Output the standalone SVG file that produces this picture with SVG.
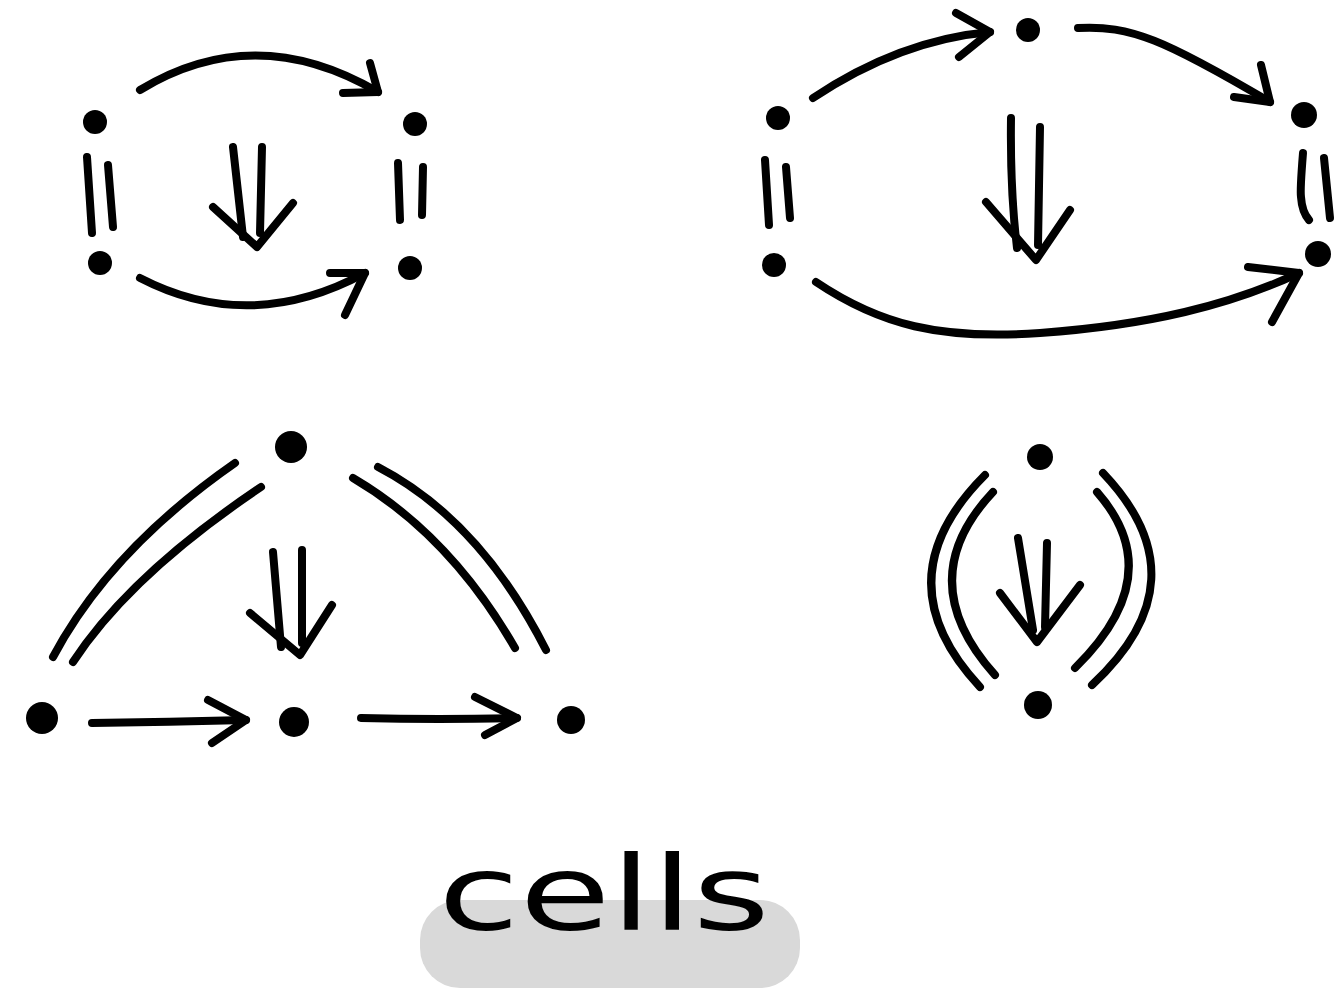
<svg xmlns="http://www.w3.org/2000/svg" width="1337" height="992" viewBox="0 0 1337 992">
<style>
.s{fill:none;stroke:#000;stroke-width:8;stroke-linecap:round;stroke-linejoin:round}
.d{fill:#000}
.lbl{font-family:"DejaVu Sans","Liberation Sans",sans-serif;font-size:104px;fill:#000}
</style>
<rect width="1337" height="992" fill="#fff"/>
<g id="label">
<rect x="420" y="900" width="380" height="88" rx="40" fill="#d9d9d9"/>
<text class="lbl" x="438" y="930" textLength="332" lengthAdjust="spacingAndGlyphs">cells</text>
</g>
<g id="nodes">
<g id="n1a"><circle class="d" cx="95" cy="122" r="12"/></g>
<g id="n1b"><circle class="d" cx="415" cy="124" r="12"/></g>
<g id="n1c"><circle class="d" cx="100" cy="263" r="12"/></g>
<g id="n1d"><circle class="d" cx="410" cy="268" r="12"/></g>
<g id="n2a"><circle class="d" cx="778" cy="118" r="12"/></g>
<g id="n2b"><circle class="d" cx="774" cy="265" r="12"/></g>
<g id="n2c"><circle class="d" cx="1028" cy="30" r="12"/></g>
<g id="n2d"><circle class="d" cx="1304" cy="115" r="13"/></g>
<g id="n2e"><circle class="d" cx="1318" cy="254" r="13"/></g>
<g id="n3a"><circle class="d" cx="291" cy="447" r="16"/></g>
<g id="n3b"><circle class="d" cx="42" cy="718" r="16"/></g>
<g id="n3c"><circle class="d" cx="294" cy="722" r="15"/></g>
<g id="n3d"><circle class="d" cx="571" cy="720" r="14"/></g>
<g id="n4a"><circle class="d" cx="1040" cy="457" r="13"/></g>
<g id="n4b"><circle class="d" cx="1038" cy="705" r="14"/></g>
</g>
<g id="connectors">
<!-- diagram 1 -->
<path class="s" d="M140,90 Q255,20 378,92"/>
<path class="s" d="M343,93 L378,92 L370,63"/>
<path class="s" d="M140,278 Q250,335 365,273"/>
<path class="s" d="M330,273 L365,273 L345,315"/>
<path class="s" d="M87,157 L92,233 M108,165 L113,227"/>
<path class="s" d="M398,163 L400,220 M423,167 L422,215"/>
<path class="s" d="M233,147 L243,237 M262,147 L260,233"/>
<path class="s" d="M213,207 L257,247 L293,203"/>
<!-- diagram 2 -->
<path class="s" d="M813,98 Q900,40 990,32"/>
<path class="s" d="M956,13 L990,32 L959,57"/>
<path class="s" d="M1078,28 C1130,25 1165,40 1270,102"/>
<path class="s" d="M1261,65 L1270,102 L1234,97"/>
<path class="s" d="M816,282 C880,325 940,340 1040,333 C1150,325 1230,305 1299,273"/>
<path class="s" d="M1248,267 L1299,273 L1272,322"/>
<path class="s" d="M765,160 L769,225 M786,167 L790,218"/>
<path class="s" d="M1303,153 Q1300,190 1301,197 Q1302,212 1309,220 M1324,158 L1330,218"/>
<path class="s" d="M1011,118 Q1010,190 1017,248 M1040,127 L1038,245"/>
<path class="s" d="M986,202 L1036,260 L1070,210"/>
<!-- diagram 3 -->
<path class="s" d="M235,463 Q110,550 53,657"/>
<path class="s" d="M261,487 Q130,575 73,662"/>
<path class="s" d="M378,467 Q480,520 546,650"/>
<path class="s" d="M353,478 Q450,535 515,648"/>
<path class="s" d="M273,552 L281,647 M302,550 L302,643"/>
<path class="s" d="M250,613 L300,655 L332,605"/>
<path class="s" d="M92,723 Q170,722 246,720"/>
<path class="s" d="M208,700 L246,720 L212,743"/>
<path class="s" d="M361,718 Q440,720 517,718"/>
<path class="s" d="M475,697 L517,718 L485,735"/>
<!-- diagram 4 -->
<path class="s" d="M985,475 Q880,580 980,687"/>
<path class="s" d="M993,492 Q910,580 995,675"/>
<path class="s" d="M1103,473 Q1205,580 1092,685"/>
<path class="s" d="M1097,492 Q1170,575 1075,668"/>
<path class="s" d="M1018,538 L1033,630 M1047,543 L1045,627"/>
<path class="s" d="M1000,593 L1037,642 L1080,585"/>
</g>
</svg>
